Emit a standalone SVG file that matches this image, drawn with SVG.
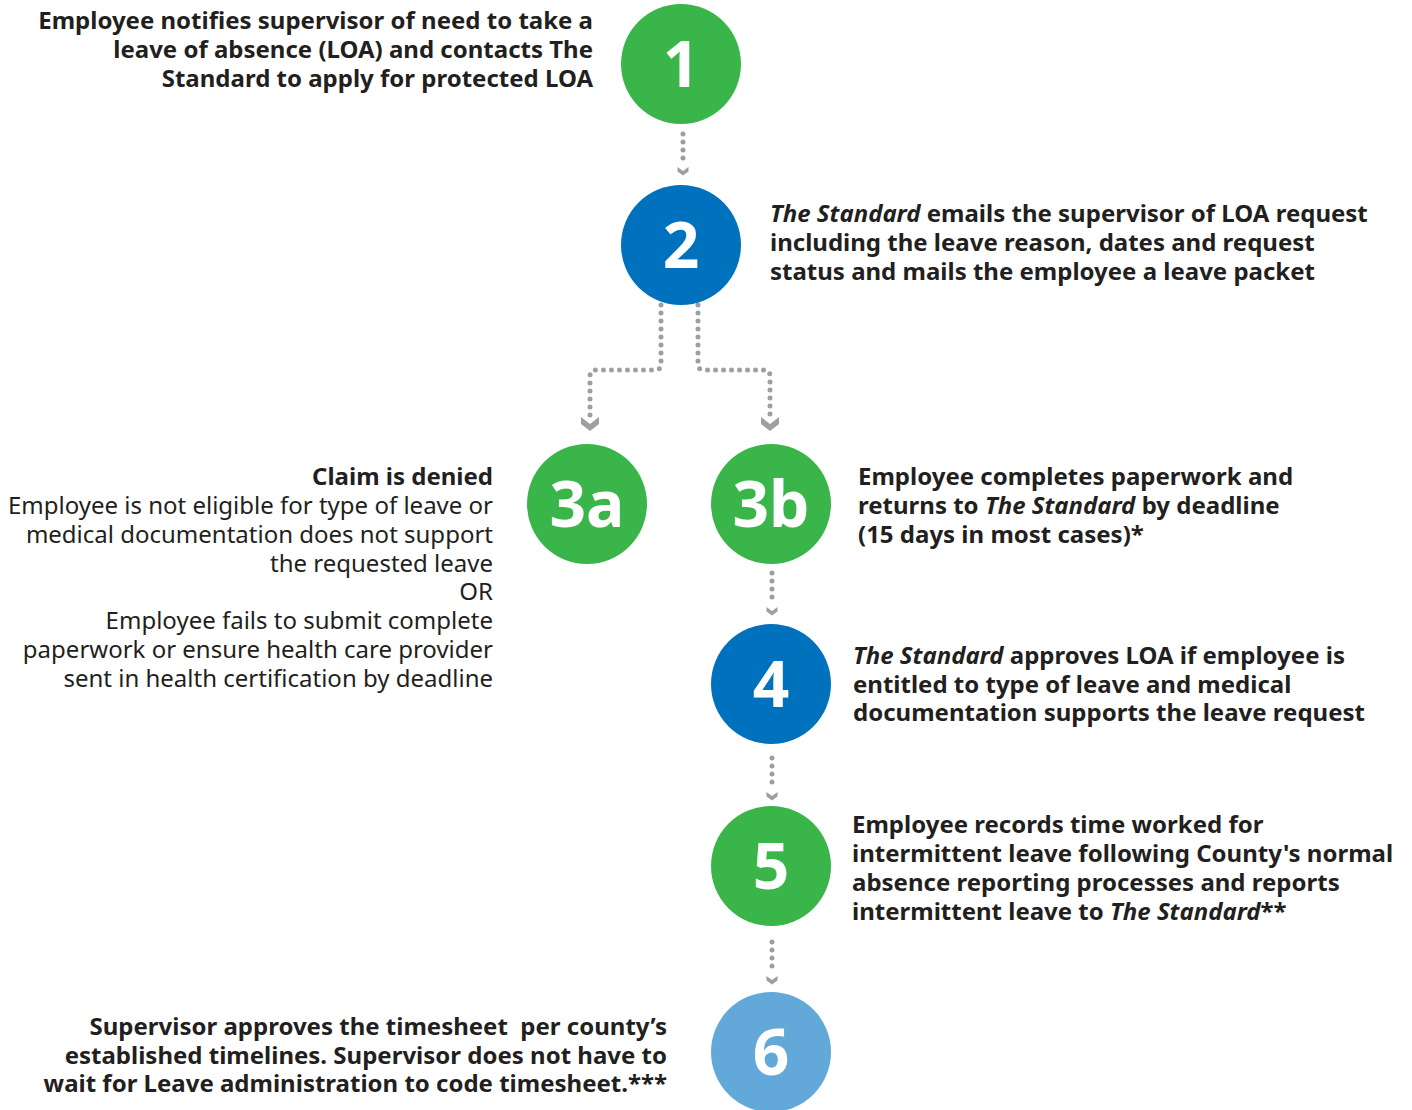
<svg xmlns="http://www.w3.org/2000/svg" width="1412" height="1110" viewBox="0 0 1412 1110">
  <defs>
    <style>
      .num { font-family: "Noto Sans", "Open Sans", sans-serif; font-weight: 700; font-size: 64px; fill: #ffffff; text-anchor: middle; }
      .b { font-family: "Noto Sans", "Open Sans", sans-serif; font-weight: 700; font-size: 24px; fill: #231f20; }
      .r { font-family: "Noto Sans", "Open Sans", sans-serif; font-weight: 400; font-size: 24px; fill: #231f20; }
      .end { text-anchor: end; }
      .pre { white-space: pre; }
      .green { fill: #39b54a; }
      .blue { fill: #0071bc; }
      .sky { fill: #62a9d9; }
      .dots { fill: none; stroke: #9d9fa2; stroke-width: 5; stroke-linecap: round; stroke-linejoin: round; stroke-dasharray: 0 8; }
      .head { fill: #9d9fa2; }
    </style>
    <path id="chev" d="M-5.5,-4 L0,0 L5.5,-4 L5.5,0.5 L0,4.5 L-5.5,0.5 Z"/>
    <path id="chevL" d="M-9,-7 L0,0 L9,-7 L9,0 L0,7 L-9,0 Z"/>
  </defs>
  <rect width="1412" height="1110" fill="#ffffff"/>

  <!-- connectors -->
  <g id="connectors">
    <path class="dots" d="M683,134 V166"/>
    <use href="#chev" class="head" x="683" y="171"/>

    <path class="dots" d="M661,305 V364 Q661,370 655,370 H596 Q590,370 590,376 V416"/>
    <use href="#chevL" class="head" x="590" y="424"/>

    <path class="dots" d="M698,305 V364 Q698,370 704,370 H764 Q770,370 770,376 V416"/>
    <use href="#chevL" class="head" x="770" y="424"/>

    <path class="dots" d="M772,573 V605"/>
    <use href="#chev" class="head" x="772" y="611"/>

    <path class="dots" d="M772,758 V790"/>
    <use href="#chev" class="head" x="772" y="796"/>

    <path class="dots" d="M772,942 V974"/>
    <use href="#chev" class="head" x="772" y="980"/>
  </g>

  <!-- step 1 -->
  <g id="node-1">
    <circle class="green" cx="681" cy="64" r="60"/>
    <text class="num" x="681" y="87">1</text>
    <text class="b end" x="593" y="29">Employee notifies supervisor of need to take a</text>
    <text class="b end" x="593" y="58">leave of absence (LOA) and contacts The</text>
    <text class="b end" x="593" y="87">Standard to apply for protected LOA</text>
  </g>

  <!-- step 2 -->
  <g id="node-2">
    <circle class="blue" cx="681" cy="245" r="60"/>
    <text class="num" x="681" y="268">2</text>
    <text class="b" x="770" y="222"><tspan font-style="italic">The Standard</tspan> emails the supervisor of LOA request</text>
    <text class="b" x="770" y="251">including the leave reason, dates and request</text>
    <text class="b" x="770" y="280">status and mails the employee a leave packet</text>
  </g>

  <!-- step 3a -->
  <g id="node-3a">
    <circle class="green" cx="587" cy="504" r="60"/>
    <text class="num" x="587" y="527">3a</text>
    <text class="b end" x="493" y="485">Claim is denied</text>
    <text class="r end" x="493" y="514">Employee is not eligible for type of leave or</text>
    <text class="r end" x="493" y="543">medical documentation does not support</text>
    <text class="r end" x="493" y="572">the requested leave</text>
    <text class="r end" x="493" y="600">OR</text>
    <text class="r end" x="493" y="629">Employee fails to submit complete</text>
    <text class="r end" x="493" y="658">paperwork or ensure health care provider</text>
    <text class="r end" x="493" y="687">sent in health certification by deadline</text>
  </g>

  <!-- step 3b -->
  <g id="node-3b">
    <circle class="green" cx="771" cy="504" r="60"/>
    <text class="num" x="771" y="527">3b</text>
    <text class="b" x="858" y="485">Employee completes paperwork and</text>
    <text class="b" x="858" y="514">returns to <tspan font-style="italic">The Standard</tspan> by deadline</text>
    <text class="b" x="858" y="543">(15 days in most cases)*</text>
  </g>

  <!-- step 4 -->
  <g id="node-4">
    <circle class="blue" cx="771" cy="684" r="60"/>
    <text class="num" x="771" y="707">4</text>
    <text class="b" x="853" y="664"><tspan font-style="italic">The Standard</tspan> approves LOA if employee is</text>
    <text class="b" x="853" y="693">entitled to type of leave and medical</text>
    <text class="b" x="853" y="721">documentation supports the leave request</text>
  </g>

  <!-- step 5 -->
  <g id="node-5">
    <circle class="green" cx="771" cy="866" r="60"/>
    <text class="num" x="771" y="889">5</text>
    <text class="b" x="852" y="833">Employee records time worked for</text>
    <text class="b" x="852" y="862">intermittent leave following County's normal</text>
    <text class="b" x="852" y="891">absence reporting processes and reports</text>
    <text class="b" x="852" y="920">intermittent leave to <tspan font-style="italic">The Standard</tspan>**</text>
  </g>

  <!-- step 6 -->
  <g id="node-6">
    <circle class="sky" cx="771" cy="1052" r="60"/>
    <text class="num" x="771" y="1075">6</text>
    <text class="b end pre" x="667" y="1035">Supervisor approves the timesheet  per county’s</text>
    <text class="b end" x="667" y="1064">established timelines. Supervisor does not have to</text>
    <text class="b end" x="667" y="1092">wait for Leave administration to code timesheet.***</text>
  </g>
</svg>
